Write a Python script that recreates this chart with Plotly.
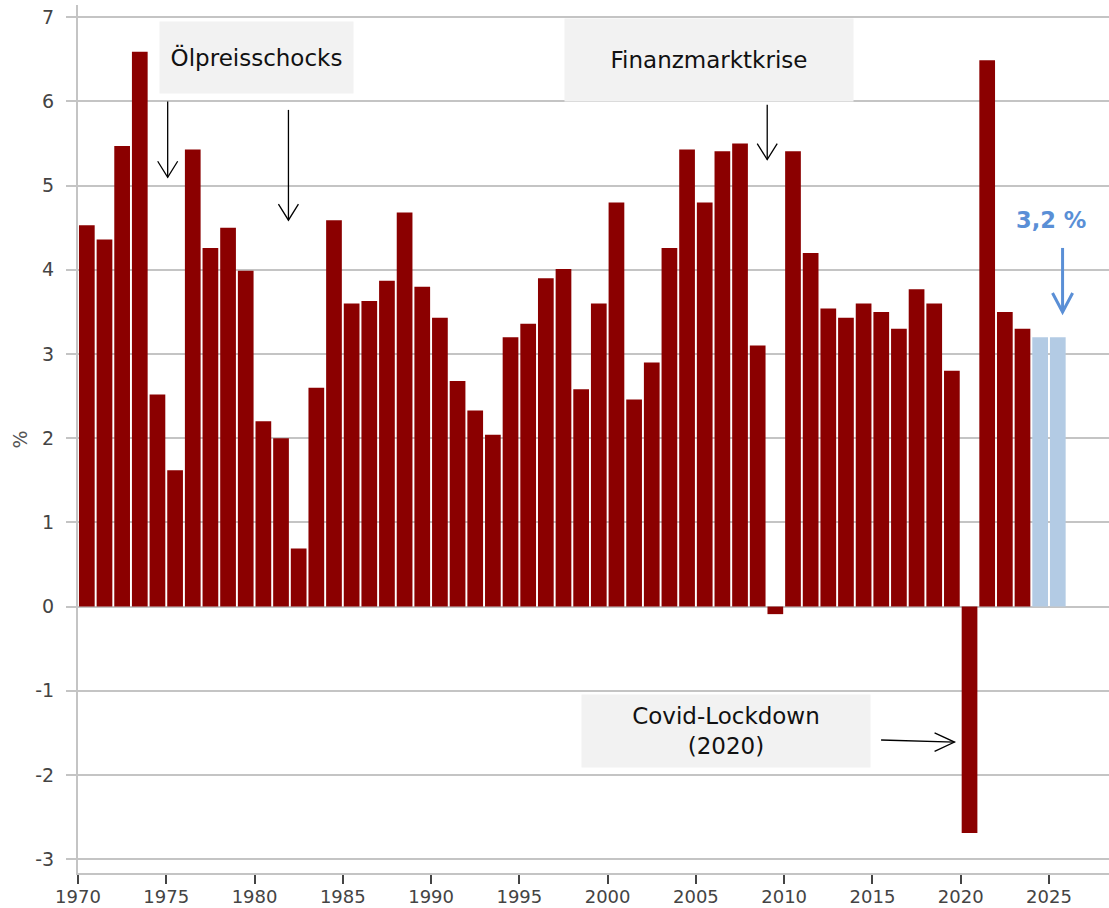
import plotly.graph_objects as go

# ---- data ----
years_actual = list(range(1970, 2024))
growth_actual = [4.53, 4.36, 5.47, 6.59, 2.52, 1.62, 5.43, 4.26, 4.50, 3.99,
                 2.20, 2.00, 0.69, 2.60, 4.59, 3.60, 3.63, 3.87, 4.68, 3.80,
                 3.43, 2.68, 2.33, 2.04, 3.20, 3.36, 3.90, 4.01, 2.58, 3.60,
                 4.80, 2.46, 2.90, 4.26, 5.43, 4.80, 5.41, 5.50, 3.10, -0.09,
                 5.41, 4.20, 3.54, 3.43, 3.60, 3.50, 3.30, 3.77, 3.60, 2.80,
                 -2.69, 6.49, 3.50, 3.30]
years_forecast = [2024, 2025]
growth_forecast = [3.20, 3.20]
x_tickvals = list(range(1970, 2030, 5))
y_tickvals = list(range(-3, 8))
y_ticktext = [str(v) for v in y_tickvals]  # plain hyphen-minus as in the original

FONT = "Verdana, DejaVu Sans, sans-serif"
RED = "#8b0000"
LIGHTBLUE = "#b3cbe4"
BLUE = "#5a8fd6"

fig = go.Figure()
fig.add_trace(go.Bar(x=[y + 0.5 for y in years_actual], y=growth_actual,
                     marker=dict(color=RED, line=dict(width=0)), name="Ist"))
fig.add_trace(go.Bar(x=[y + 0.5 for y in years_forecast], y=growth_forecast,
                     marker=dict(color=LIGHTBLUE, line=dict(width=0)), name="Prognose"))

shapes = []
def arrow_down(x, y0, y1, dx=0.566, dy=0.19, color="black", width=1.3):
    shapes.append(dict(type="line", xref="x", yref="y", x0=x, x1=x, y0=y0, y1=y1,
                       line=dict(color=color, width=width)))
    shapes.append(dict(type="path", xref="x", yref="y",
                       path=f"M {x-dx},{y1+dy} L {x},{y1} L {x+dx},{y1+dy}",
                       line=dict(color=color, width=width)))

arrow_down(1975.08, 6.00, 5.10)
arrow_down(1981.92, 5.90, 4.59)
arrow_down(2009.04, 5.96, 5.31)
arrow_down(2025.77, 4.26, 3.50, dx=0.57, dy=0.225, color=BLUE, width=3)
# covid horizontal arrow
shapes.append(dict(type="line", xref="x", yref="y", x0=2015.49, x1=2019.65,
                   y0=-1.585, y1=-1.61, line=dict(color="black", width=1.3)))
shapes.append(dict(type="path", xref="x", yref="y",
                   path="M 2018.52,-1.50 L 2019.65,-1.61 L 2018.52,-1.72",
                   line=dict(color="black", width=1.3)))

annotations = [
    dict(x=1980.12, y=6.52, xref="x", yref="y", text="Ölpreisschocks", showarrow=False,
         bgcolor="#f2f2f2", width=193, height=71, borderpad=0,
         font=dict(family=FONT, size=23, color="#111111")),
    dict(x=2005.76, y=6.49, xref="x", yref="y", text="Finanzmarktkrise", showarrow=False,
         bgcolor="#f2f2f2", width=288, height=82, borderpad=0,
         font=dict(family=FONT, size=23, color="#111111")),
    dict(x=2006.68, y=-1.476, xref="x", yref="y", text="Covid-Lockdown<br>(2020)", showarrow=False,
         bgcolor="#f2f2f2", width=288, height=72, borderpad=0,
         font=dict(family=FONT, size=23, color="#111111")),
    dict(x=2025.13, y=4.59, xref="x", yref="y", text="<b>3,2 %</b>", showarrow=False,
         font=dict(family=FONT, size=22.5, color=BLUE)),
    dict(x=-0.0558, y=0.5, xref="paper", yref="paper", text="%", showarrow=False,
         xanchor="center", yanchor="middle",
         textangle=-90, font=dict(family=FONT, size=19, color="#555555")),
]

fig.update_layout(
    width=1109, height=908,
    margin=dict(l=78, r=0, t=5, b=35),
    plot_bgcolor="white", paper_bgcolor="white",
    barmode="overlay", bargap=0.11,
    showlegend=False,
    shapes=shapes, annotations=annotations,
    font=dict(family=FONT),
    xaxis=dict(range=[1970, 2028.4], tickvals=x_tickvals, ticks="outside", ticklen=9,
               tickcolor="#444444", tickwidth=1.5, showgrid=False, automargin=False,
               showline=True, linecolor="#c4c4c4", linewidth=2, ticklabelstandoff=-3,
               tickfont=dict(family=FONT, size=18, color="#444444"), zeroline=False),
    yaxis=dict(range=[-3.165, 7.146], tickvals=y_tickvals, ticktext=y_ticktext,
               ticks="outside", ticklen=10, automargin=False,
               tickcolor="#c4c4c4", tickwidth=1.5, showgrid=True, gridcolor="#c4c4c4",
               gridwidth=1.5, showline=True, linecolor="#c4c4c4", linewidth=2,
               zeroline=False, ticklabelstandoff=8,
               tickfont=dict(family=FONT, size=19, color="#444444")),
)

fig.write_html("out.html", config={"displayModeBar": False},
               post_script="document.body.style.margin='0';")
